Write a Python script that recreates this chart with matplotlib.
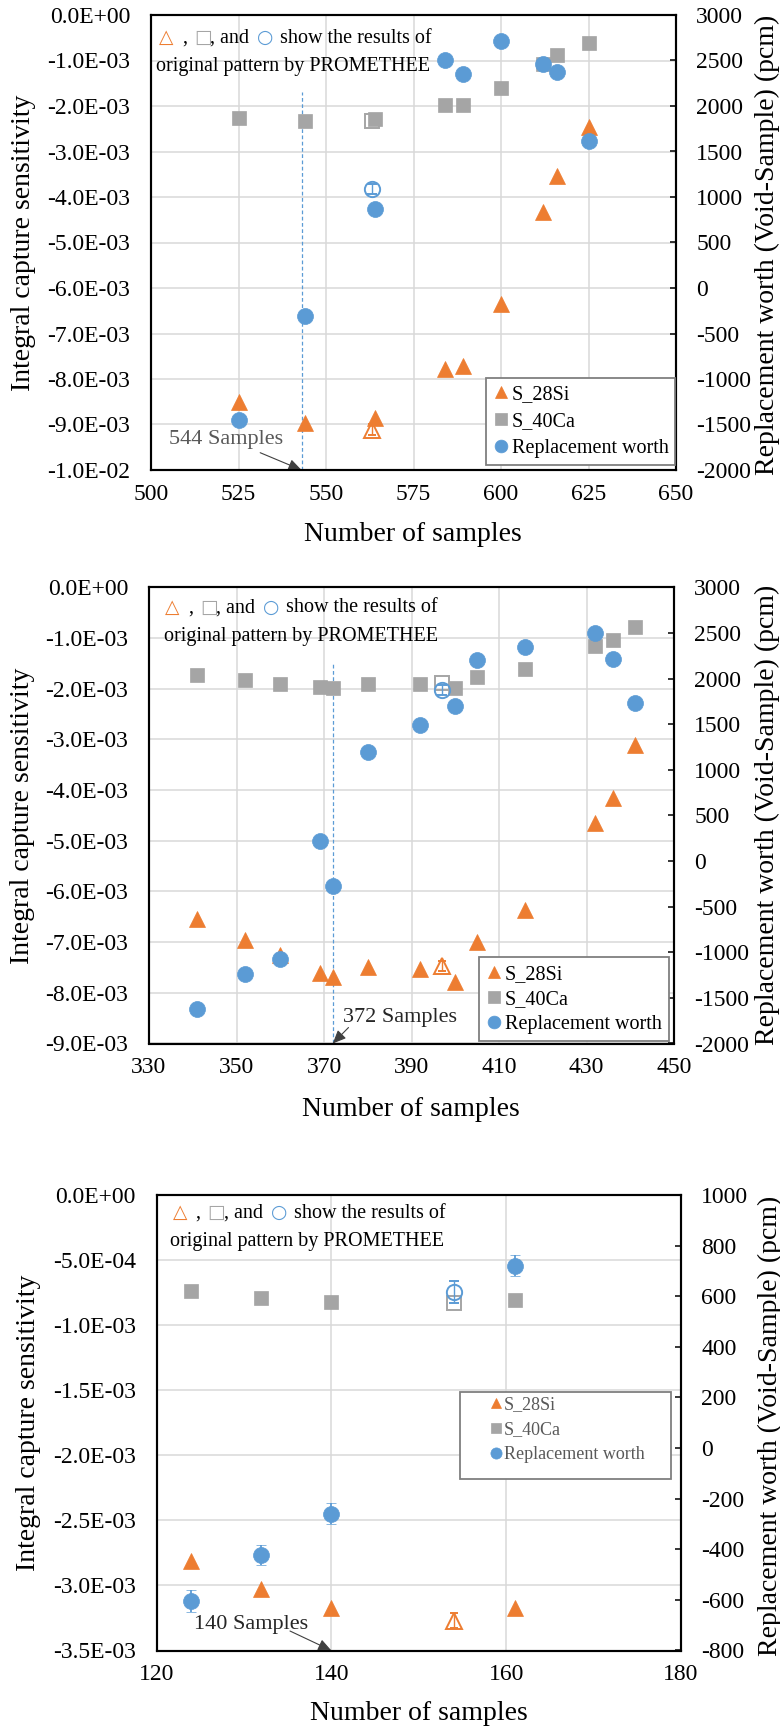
import numpy as np
import matplotlib
matplotlib.use('Agg')
import matplotlib.pyplot as plt
from matplotlib.transforms import offset_copy
from matplotlib.patches import Rectangle

plt.rcParams['font.family'] = ['Liberation Serif', 'DejaVu Sans']
plt.rcParams['axes.unicode_minus'] = False

ORANGE = '#ED7D31'
GRAY = '#A5A5A5'
BLUE = '#5B9BD5'

# ---- panel 1 (544 samples) ----
n1 = [525, 544, 564, 584, 589, 600, 612, 616, 625]
si1 = [-8.50e-3, -8.97e-3, -8.85e-3, -7.78e-3, -7.72e-3, -6.35e-3, -4.34e-3, -3.54e-3, -2.47e-3]
ca1 = [-2.26e-3, -2.34e-3, -2.29e-3, -1.97e-3, -1.97e-3, -1.60e-3, -1.08e-3, -0.88e-3, -0.62e-3]
rw1 = [-1451, -313, 863, 2500, 2357, 2714, 2462, 2379, 1610]
rw1_err = [50, 50, 50, 50, 50, 50, 50, 50, 50]
org1 = dict(n=563, si=-9.12e-3, si_err=0.12e-3, ca=-2.34e-3, rw=1088, rw_err=55)

# ---- panel 2 (372 samples) ----
n2 = [341, 352, 360, 369, 372, 380, 392, 400, 405, 416, 432, 436, 441]
si2 = [-6.54e-3, -6.96e-3, -7.25e-3, -7.60e-3, -7.68e-3, -7.49e-3, -7.52e-3, -7.78e-3,
       -7.00e-3, -6.37e-3, -4.64e-3, -4.16e-3, -3.10e-3]
ca2 = [-1.73e-3, -1.83e-3, -1.90e-3, -1.96e-3, -1.99e-3, -1.91e-3, -1.91e-3, -1.99e-3,
       -1.77e-3, -1.60e-3, -1.16e-3, -1.04e-3, -0.77e-3]
rw2 = [-1622, -1238, -1073, 215, -268, 1196, 1493, 1706, 2205, 2353, 2496, 2211, 1734]
rw2_err = [45, 45, 45, 45, 45, 45, 45, 45, 45, 45, 45, 45, 45]
org2 = dict(n=397, si=-7.47e-3, si_err=0.10e-3, ca=-1.88e-3, rw=1871, rw_err=55)

# ---- panel 3 (140 samples) ----
n3 = [124, 132, 140, 161]
si3 = [-2.81e-3, -3.03e-3, -3.17e-3, -3.17e-3]
ca3 = [-7.4e-4, -7.9e-4, -8.2e-4, -8.1e-4]
rw3 = [-604, -423, -259, 721]
rw3_err = [42, 41, 41, 42]
org3 = dict(n=154, si=-3.27e-3, si_err=0.06e-3, ca=-8.3e-4, rw=617, rw_err=42)

legend_labels = ['S_28Si', 'S_40Ca', 'Replacement worth']

W, H = 780, 1728
fig = plt.figure(figsize=(W / 100, H / 100), dpi=100)


def rect_px(left, top, right, bottom):
    return [left / W, 1 - bottom / H, (right - left) / W, (bottom - top) / H]


def sci(v):
    if abs(v) < 1e-12:
        return '0.0E+00'
    return '%.1E' % v


def draw_panel(rect, n, si, ca, rw, rw_err, org, xticks, yticks, y2ticks,
               cut, cut_top, cut_txt, cut_txt_xy, cut_arrow_from, cut_col,
               note_off, leg, labels):
    ax = fig.add_axes(rect)
    ax2 = ax.twinx()

    # original pattern (open markers) first so the filled ones sit on top
    ax.errorbar([org['n']], [org['si']], yerr=[org['si_err']], fmt='^', ms=11, mfc='none',
                mec=ORANGE, mew=1.4, ecolor=ORANGE, elinewidth=1, capsize=3, zorder=3)
    ax.plot([org['n']], [org['ca']], 's', ms=10.5, mfc='none', mec=GRAY, mew=1.4, zorder=3)
    h1, = ax.plot(n, si, '^', ms=11, color=ORANGE, mec=ORANGE, mew=0.5, zorder=4)
    h2, = ax.plot(n, ca, 's', ms=10.5, color=GRAY, mec=GRAY, mew=0.5, zorder=4)

    ax2.errorbar([org['n']], [org['rw']], yerr=[org['rw_err']], fmt='o', ms=11, mfc='none',
                 mec=BLUE, mew=1.4, ecolor=BLUE, elinewidth=1, capsize=3.5, zorder=3)
    h3 = ax2.errorbar(n, rw, yerr=rw_err, fmt='o', ms=11.5, color=BLUE, mec=BLUE, mew=0.5,
                      ecolor=BLUE, elinewidth=1.3, capsize=3.5, zorder=4)

    ax.set_xlim(xticks[0], xticks[-1])
    ax.set_xticks(xticks)
    ax.set_ylim(yticks[-1], yticks[0])
    ax.set_yticks(yticks)
    ax.set_yticklabels([sci(v) for v in yticks])
    ax2.set_ylim(y2ticks[0], y2ticks[-1])
    ax2.set_yticks(y2ticks)

    ax.set_axisbelow(True)
    ax.grid(True, color='#D9D9D9', lw=1.1)
    ax.tick_params(axis='y', length=0, pad=15, labelsize=17)
    ax.tick_params(axis='x', length=0, pad=10, labelsize=17)
    ax2.tick_params(axis='y', direction='in', length=4.5, width=1.1, pad=14.5, labelsize=17)
    for a in (ax, ax2):
        for s in a.spines.values():
            s.set_linewidth(1.5)
            s.set_color('black')

    # dashed marker line + arrow for the chosen sample count
    if cut_top is not None:
        ax.vlines(cut, yticks[-1], cut_top, colors=BLUE, linestyles=(0, (3, 2)), lw=0.9, zorder=2)
    ax.text(cut_txt_xy[0], cut_txt_xy[1], cut_txt, transform=ax.transAxes, fontsize=16,
            color=cut_col, ha='left', va='center', zorder=5)
    ax.annotate('', xy=(cut, yticks[-1]), xycoords='data', xytext=cut_arrow_from,
                textcoords='axes fraction',
                arrowprops=dict(arrowstyle='-|>,head_length=0.8,head_width=0.35', color='#404040',
                                lw=0.8, shrinkA=0, shrinkB=0), zorder=5)

    # note in the upper-left corner
    dx1, b1, dx2, b2 = note_off
    pieces = [('\u25B3', ORANGE, 0, 'sym'), (',', 'black', 23, 'txt'), ('\u25A1', GRAY, 35, 'sym'),
              (', and', 'black', 51, 'txt'), ('\u25CB', BLUE, 98, 'sym'),
              ('show the results of', 'black', 121, 'txt')]
    for s, c, off, kind in pieces:
        tr = offset_copy(ax.transAxes, fig=fig, x=dx1 + off, y=-b1, units='dots')
        if kind == 'sym':
            ax.text(0, 1, s, color=c, transform=tr, fontsize=13.5, family=['DejaVu Sans'],
                    va='baseline', ha='left', zorder=5)
        else:
            ax.text(0, 1, s, color=c, transform=tr, fontsize=14.5, va='baseline', ha='left', zorder=5)
    tr = offset_copy(ax.transAxes, fig=fig, x=dx2, y=-b2, units='dots')
    ax.text(0, 1, 'original pattern by PROMETHEE', transform=tr, fontsize=14.5,
            va='baseline', ha='left', zorder=5)

    # legend
    handles = [h1, h2, h3[0]]
    if leg['frame'] is None:
        lg = ax2.legend(handles, legend_labels, loc='upper left', bbox_to_anchor=leg['anchor'],
                        frameon=True, fancybox=False, edgecolor='#7F7F7F', framealpha=1,
                        borderpad=0.35, borderaxespad=0, handlelength=0.8, handletextpad=0.12,
                        labelspacing=leg['spacing'], markerscale=0.8, prop={'size': leg['size']})
        lg.get_frame().set_linewidth(1.3)
    else:
        fx, fy, fw, fh = leg['frame']
        ax2.add_patch(Rectangle((fx, fy), fw, fh, transform=ax2.transAxes, facecolor='white',
                                edgecolor='#7F7F7F', lw=1.3, zorder=6))
        lg = ax2.legend(handles, legend_labels, loc='upper left', bbox_to_anchor=leg['anchor'],
                        frameon=False, borderpad=0, borderaxespad=0, handlelength=0.7,
                        handletextpad=0.1, labelspacing=leg['spacing'], markerscale=0.7,
                        prop={'size': leg['size']})
        lg.set_zorder(7)
    for t in lg.get_texts():
        t.set_color(leg['color'])

    # axis titles
    (ylx, yly), (rlx, rly), (xlx, xly) = labels
    fig.text(ylx / W, 1 - yly / H, 'Integral capture sensitivity', rotation=90, fontsize=20,
             ha='center', va='center')
    fig.text(rlx / W, 1 - rly / H, 'Replacement worth (Void-Sample) (pcm)', rotation=90,
             fontsize=20, ha='center', va='center')
    fig.text(xlx / W, 1 - xly / H, 'Number of samples', fontsize=20, ha='center', va='center')
    return ax, ax2


draw_panel(rect_px(151, 15, 676, 470), n1, si1, ca1, rw1, rw1_err, org1,
           xticks=[500, 525, 550, 575, 600, 625, 650],
           yticks=[0, -1e-3, -2e-3, -3e-3, -4e-3, -5e-3, -6e-3, -7e-3, -8e-3, -9e-3, -1e-2],
           y2ticks=[-2000, -1500, -1000, -500, 0, 500, 1000, 1500, 2000, 2500, 3000],
           cut=543, cut_top=-1.7e-3, cut_txt='544 Samples', cut_txt_xy=(0.034, 0.066),
           cut_arrow_from=(0.208, 0.038), cut_col='#595959',
           note_off=(8, 28, 5, 56.5),
           leg=dict(frame=None, anchor=(0.638, 0.2022), spacing=0.38, size=14.5, color='black'),
           labels=((24, 242.5), (767.5, 245), (412.5, 535)))

draw_panel(rect_px(149, 587.5, 674, 1043.5), n2, si2, ca2, rw2, rw2_err, org2,
           xticks=[330, 350, 370, 390, 410, 430, 450],
           yticks=[0, -1e-3, -2e-3, -3e-3, -4e-3, -5e-3, -6e-3, -7e-3, -8e-3, -9e-3],
           y2ticks=[-2000, -1500, -1000, -500, 0, 500, 1000, 1500, 2000, 2500, 3000],
           cut=372, cut_top=-1.48e-3, cut_txt='372 Samples', cut_txt_xy=(0.3695, 0.057),
           cut_arrow_from=(0.380, 0.035), cut_col='#262626',
           note_off=(16, 25, 14.5, 54),
           leg=dict(frame=None, anchor=(0.6286, 0.1886), spacing=0.3, size=14.5, color='black'),
           labels=((22.5, 815.5), (767.5, 815), (411, 1109)))

draw_panel(rect_px(156.5, 1195, 681, 1650.5), n3, si3, ca3, rw3, rw3_err, org3,
           xticks=[120, 140, 160, 180],
           yticks=[0, -5e-4, -1e-3, -1.5e-3, -2e-3, -2.5e-3, -3e-3, -3.5e-3],
           y2ticks=[-800, -600, -400, -200, 0, 200, 400, 600, 800, 1000],
           cut=140, cut_top=None, cut_txt='140 Samples', cut_txt_xy=(0.0715, 0.058),
           cut_arrow_from=(0.2545, 0.0428), cut_col='#262626',
           note_off=(16, 23, 14, 51),
           leg=dict(frame=(0.5777, 0.3765, 0.4033, 0.191), anchor=(0.6353, 0.5587),
                    spacing=0.45, size=13, color='#595959'),
           labels=((29, 1423), (770, 1426), (418.5, 1713)))

fig.savefig('out.png', dpi=100)
